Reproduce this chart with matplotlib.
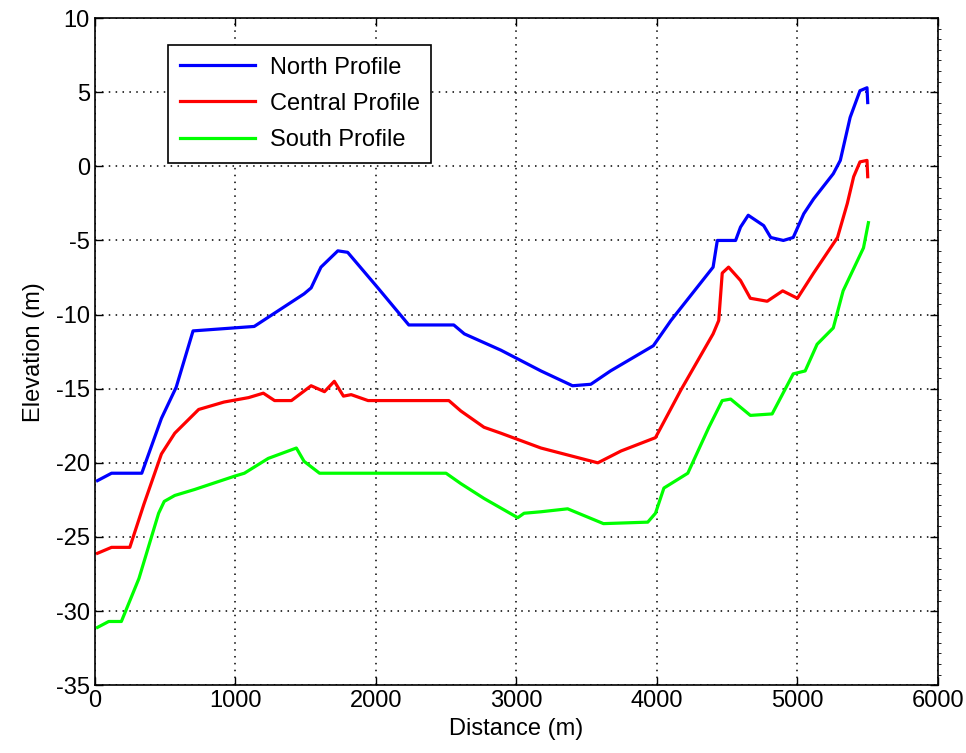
import numpy as np
import matplotlib
matplotlib.use("Agg")
import matplotlib.pyplot as plt
from matplotlib.ticker import MultipleLocator

plt.rcParams['font.family'] = ['Liberation Sans Narrow', 'Liberation Sans', 'DejaVu Sans']
plt.rcParams['axes.unicode_minus'] = False

# North profile
north_x = [20, 120, 335, 475, 580, 700, 1135, 1490, 1540, 1610, 1730, 1800, 2015,
           2235, 2555, 2630, 2890, 3175, 3400, 3530, 3670, 3975, 4100, 4400, 4430,
           4560, 4595, 4650, 4760, 4810, 4900, 4970, 5045, 5115, 5255, 5305, 5375,
           5445, 5495, 5500]
north_y = [-21.2, -20.7, -20.7, -17.0, -14.9, -11.1, -10.8, -8.6, -8.2, -6.8, -5.7,
           -5.8, -8.2, -10.7, -10.7, -11.3, -12.4, -13.8, -14.8, -14.7, -13.8, -12.1,
           -10.4, -6.8, -5.0, -5.0, -4.1, -3.3, -4.0, -4.8, -5.0, -4.8, -3.2, -2.2,
           -0.5, 0.4, 3.3, 5.1, 5.3, 4.3]

# Central profile
central_x = [20, 120, 250, 350, 475, 570, 740, 920, 1095, 1200, 1280, 1400, 1540,
             1635, 1705, 1770, 1825, 1945, 2520, 2605, 2770, 2890, 3175, 3580, 3745,
             3990, 4170, 4400, 4440, 4465, 4510, 4595, 4665, 4785, 4895, 5000, 5115,
             5285, 5355, 5400, 5445, 5495, 5500]
central_y = [-26.1, -25.7, -25.7, -22.8, -19.4, -18.0, -16.4, -15.9, -15.6, -15.3,
             -15.8, -15.8, -14.8, -15.2, -14.5, -15.5, -15.4, -15.8, -15.8, -16.5,
             -17.6, -18.0, -19.0, -20.0, -19.2, -18.3, -15.1, -11.3, -10.4, -7.2,
             -6.8, -7.7, -8.9, -9.1, -8.4, -8.9, -7.2, -4.8, -2.5, -0.7, 0.3, 0.4, -0.7]

# South profile
south_x = [20, 100, 190, 315, 455, 495, 570, 710, 995, 1065, 1235, 1435, 1490, 1600,
           2500, 2605, 2770, 3010, 3055, 3175, 3365, 3620, 3935, 3990, 4050, 4220,
           4370, 4465, 4525, 4665, 4820, 4970, 5055, 5140, 5255, 5325, 5425, 5470, 5505]
south_y = [-31.1, -30.7, -30.7, -27.8, -23.4, -22.6, -22.2, -21.8, -20.9, -20.7,
           -19.7, -19.0, -19.9, -20.7, -20.7, -21.4, -22.4, -23.7, -23.4, -23.3,
           -23.1, -24.1, -24.0, -23.4, -21.7, -20.7, -17.6, -15.8, -15.7, -16.8,
           -16.7, -14.0, -13.8, -12.0, -10.9, -8.4, -6.4, -5.5, -3.8]

labels = ['North Profile', 'Central Profile', 'South Profile']
colors = ['#0000ff', '#ff0000', '#00ff00']

fig = plt.figure(figsize=(9.66, 7.53), dpi=100)
ax = fig.add_axes([0.098, 0.090, 0.873, 0.886])

ax.plot(north_x, north_y, color=colors[0], lw=2.3, label=labels[0])
ax.plot(central_x, central_y, color=colors[1], lw=2.3, label=labels[1])
ax.plot(south_x, south_y, color=colors[2], lw=2.3, label=labels[2])

ax.set_xlim(0, 6000)
ax.set_ylim(-35, 10)
ax.set_xticks(np.arange(0, 6001, 1000))
ax.set_yticks(np.arange(-35, 11, 5))
ax.yaxis.set_minor_locator(MultipleLocator(5 / 7))
ax.tick_params(which='major', direction='in', top=True, right=True, length=6,
               labelsize=17, width=1)
ax.tick_params(which='minor', left=False, right=True, direction='out', length=2.5)
ax.grid(True, which='major', linestyle=(0, (1, 3.5)), color='black', linewidth=1.1)
for s in ax.spines.values():
    s.set_linewidth(1.2)

ax.set_xlabel('Distance (m)', fontsize=17, labelpad=4)
ax.set_ylabel('Elevation (m)', fontsize=17, labelpad=8)

leg = ax.legend(loc='upper left', bbox_to_anchor=(0.087, 0.96), borderaxespad=0,
                fontsize=17, fancybox=False, edgecolor='black', framealpha=1,
                handlelength=3.2, handletextpad=0.6, labelspacing=0.6, borderpad=0.5)
leg.get_frame().set_linewidth(1.2)

fig.savefig('out.png', dpi=100)
